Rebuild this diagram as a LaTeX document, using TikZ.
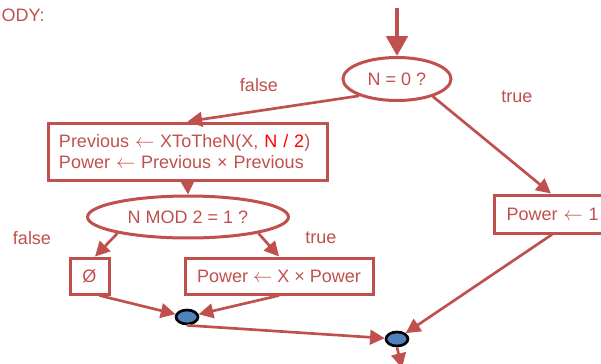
\documentclass[tikz,border=0pt]{standalone}
\usepackage{fontspec}
\setmainfont{Liberation Sans}
\usetikzlibrary{shapes.geometric,arrows.meta,calc}
\definecolor{dred}{RGB}{192,80,77}
\definecolor{jblue}{RGB}{79,129,189}
\begin{document}
\begin{tikzpicture}[x=0.75pt,y=-0.75pt,
  every node/.style={font=\fontsize{13.5}{15.75}\selectfont, text=dred},
  lbl/.style={inner sep=0pt},
  box/.style={draw=dred, line width=2.25pt, inner sep=0pt},
  oval/.style={ellipse, draw=dred, line width=2.25pt, inner sep=0pt},
  junc/.style={ellipse, draw=black, fill=jblue, line width=2pt, inner sep=0pt, minimum width=16.5pt, minimum height=10.5pt},
  conn/.style={draw=dred, line width=2pt, -{Triangle[length=11pt,width=11pt]}},
  bigconn/.style={draw=dred, line width=3pt, -{Triangle[length=15pt,width=16pt]}}]
\useasboundingbox (0,0) rectangle (601,364);
\clip (0,0) rectangle (601,364);
\node[lbl, anchor=base east] (hdr) at (45,21.7) {ODY:};
\coordinate (top) at (397,8);
\node[oval, minimum width=81pt, minimum height=32.25pt] (e1) at (397,79) {N = 0 ?};
\node[box, minimum width=209.25pt, minimum height=42.75pt, text width=192.75pt, align=left] (b1) at (187.5,151.5) {Previous $\leftarrow$ XToTheN(X, \textcolor{red}{N / 2})\\Power $\leftarrow$ Previous × Previous};
\node[oval, minimum width=150.75pt, minimum height=31.5pt] (e2) at (188,217) {N MOD 2 = 1 ?};
\node[box, minimum width=29.25pt, minimum height=27pt] (z) at (89.5,276) {Ø};
\node[box, minimum width=141pt, minimum height=27pt] (pw) at (279,276) {Power $\leftarrow$ X × Power};
\node[box, anchor=west, minimum height=28.5pt, text width=73.5pt, inner xsep=9pt, align=left] (p1) at (493,214) {Power $\leftarrow$ 1};
\node[lbl] (f1) at (259,85) {false};
\node[lbl] (t1) at (517,97) {true};
\node[lbl] (f2) at (32,238) {false};
\node[lbl] (t2) at (321,238) {true};
\node[junc] (j1) at (187,317) {};
\node[junc] (j2) at (397,339) {};
\coordinate (out) at (402,368);
\draw[bigconn] (top) -- (e1.north);
\draw[conn] (e1.204) -- (b1.north);
\draw[conn] (e1.-26) -- ($(p1.north west)+(58,0)$);
\draw[conn] (b1.south) -- (e2.north);
\draw[conn] (e2.193) -- ($(z.north)+(5.5,0)$);
\draw[conn] (e2.-13) -- (pw.north);
\draw[conn] ($(z.south)+(10,0)$) -- (j1);
\draw[conn] (pw.south) -- (j1);
\draw[conn] (j1.south) -- (j2);
\draw[conn] ($(p1.south west)+(59,0)$) -- (j2);
\draw[conn] (j2.south) -- (out);
\end{tikzpicture}
\end{document}
